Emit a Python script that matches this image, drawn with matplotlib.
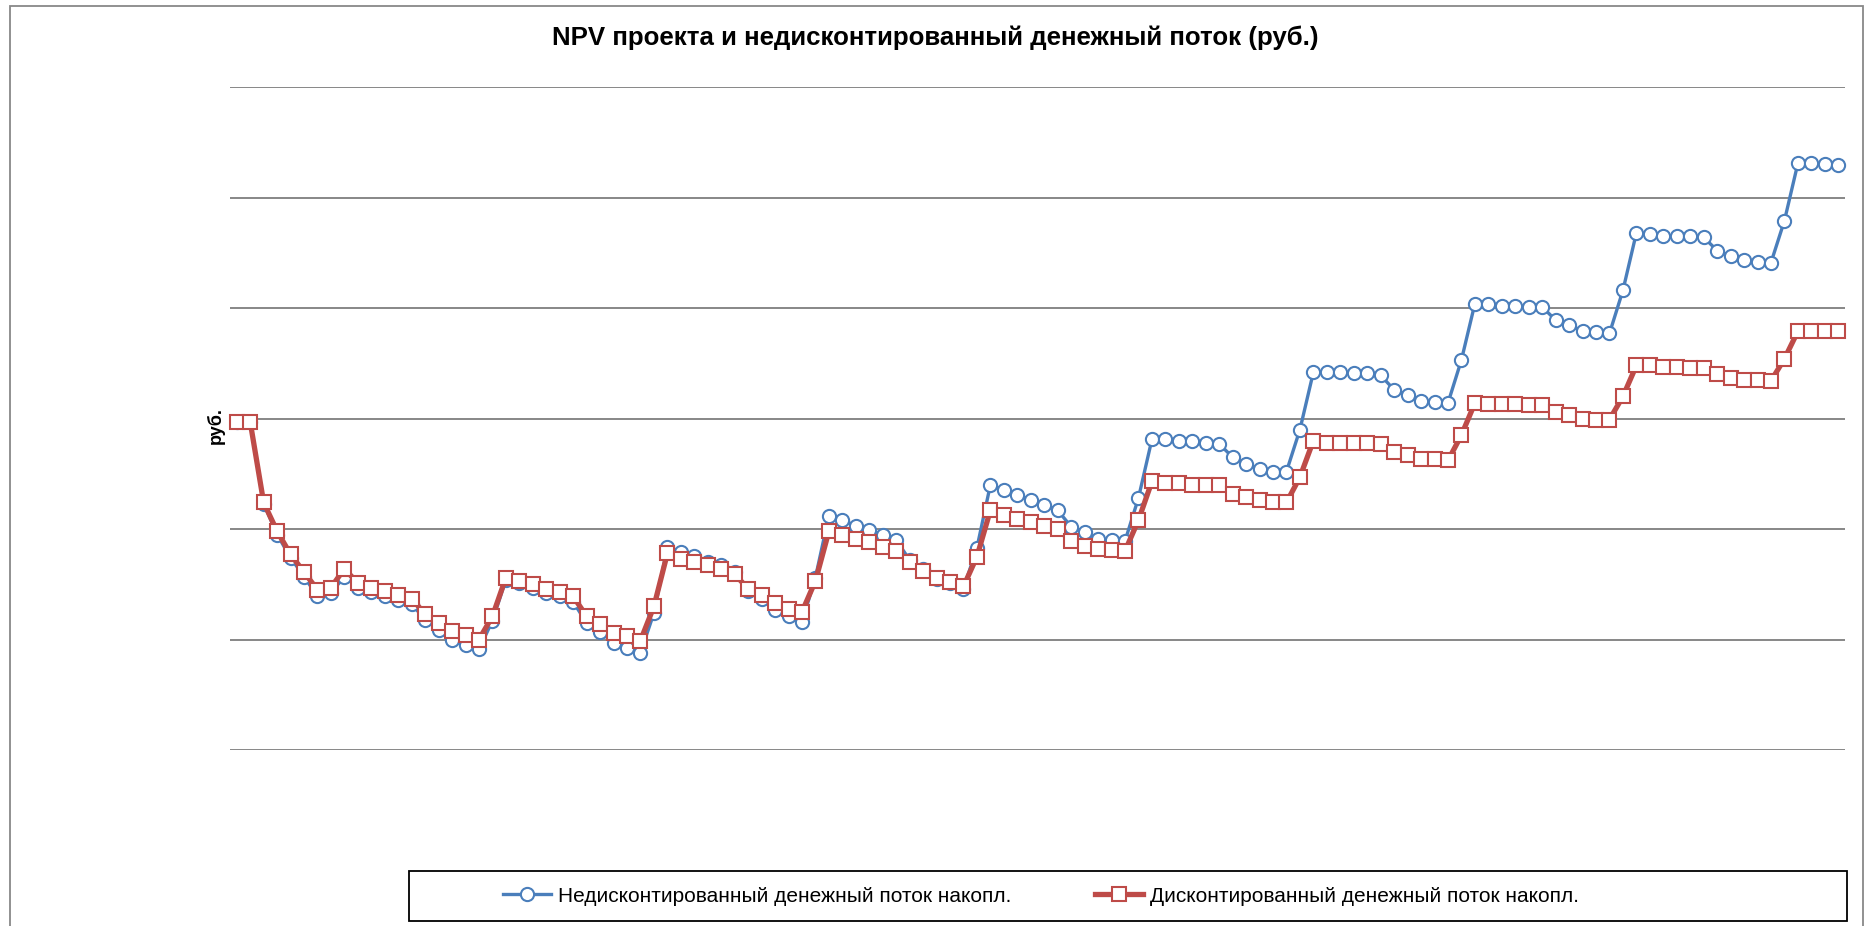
import matplotlib
matplotlib.use("Agg")
import matplotlib.pyplot as plt
from matplotlib.patches import Rectangle
from matplotlib.lines import Line2D

plt.rcParams['font.family'] = ['Liberation Sans', 'DejaVu Sans']

# monthly periods, values in grid units (axis labels are hidden on the original)
months = list(range(120))

undiscounted = [
    -0.03, -0.03, -0.77, -1.05, -1.26, -1.43, -1.61, -1.58, -1.43, -1.53,
    -1.57, -1.61, -1.64, -1.68, -1.82, -1.91, -2.00, -2.05, -2.09, -1.83,
    -1.46, -1.49, -1.53, -1.58, -1.61, -1.66, -1.85, -1.93, -2.03, -2.08,
    -2.12, -1.76, -1.16, -1.21, -1.24, -1.30, -1.33, -1.39, -1.56, -1.63,
    -1.73, -1.79, -1.84, -1.44, -0.88, -0.92, -0.97, -1.01, -1.05, -1.10,
    -1.28, -1.36, -1.45, -1.49, -1.54, -1.17, -0.60, -0.65, -0.69, -0.74,
    -0.78, -0.83, -0.98, -1.03, -1.09, -1.10, -1.11, -0.72, -0.19, -0.19,
    -0.20, -0.20, -0.22, -0.23, -0.35, -0.41, -0.46, -0.48, -0.48, -0.10,
    0.42, 0.42, 0.42, 0.41, 0.41, 0.39, 0.26, 0.21, 0.16, 0.15,
    0.14, 0.53, 1.04, 1.04, 1.02, 1.02, 1.01, 1.01, 0.89, 0.85,
    0.79, 0.78, 0.77, 1.16, 1.68, 1.67, 1.65, 1.65, 1.65, 1.64,
    1.52, 1.47, 1.43, 1.42, 1.41, 1.79, 2.31, 2.31, 2.30, 2.29,
]

discounted = [
    -0.03, -0.03, -0.76, -1.02, -1.23, -1.39, -1.55, -1.53, -1.36, -1.49,
    -1.53, -1.56, -1.60, -1.63, -1.77, -1.85, -1.92, -1.96, -2.00, -1.79,
    -1.44, -1.47, -1.50, -1.54, -1.57, -1.61, -1.79, -1.86, -1.94, -1.97,
    -2.01, -1.70, -1.22, -1.27, -1.30, -1.33, -1.36, -1.41, -1.54, -1.60,
    -1.67, -1.72, -1.75, -1.47, -1.02, -1.05, -1.09, -1.12, -1.16, -1.20,
    -1.30, -1.38, -1.44, -1.48, -1.52, -1.25, -0.83, -0.87, -0.91, -0.94,
    -0.97, -1.00, -1.11, -1.15, -1.18, -1.19, -1.20, -0.92, -0.57, -0.58,
    -0.58, -0.60, -0.60, -0.60, -0.68, -0.71, -0.74, -0.76, -0.76, -0.53,
    -0.20, -0.22, -0.22, -0.22, -0.22, -0.23, -0.30, -0.33, -0.37, -0.37,
    -0.38, -0.15, 0.14, 0.13, 0.13, 0.13, 0.12, 0.12, 0.06, 0.03,
    0.00, -0.01, -0.01, 0.20, 0.48, 0.48, 0.47, 0.47, 0.46, 0.46,
    0.40, 0.37, 0.35, 0.35, 0.34, 0.54, 0.79, 0.79, 0.79, 0.79,
]

title = "NPV проекта и недисконтированный денежный поток (руб.)"
label_undisc = "Недисконтированный денежный поток накопл."
label_disc = "Дисконтированный денежный поток накопл."

blue = '#4A7EBB'
red = '#BE4B48'

W, H = 1871, 926
fig = plt.figure(figsize=(W / 100, H / 100), dpi=100)

# outer chart border
fig.patches.append(Rectangle((9.6 / W, -0.05), (1863 - 9.6) / W, 1.05 - 5.7 / H,
                             transform=fig.transFigure, fill=False,
                             edgecolor='#888888', linewidth=1.3))

ax = fig.add_axes([230 / W, 1 - 750 / H, (1845 - 230) / W, (750 - 87) / H])
ax.set_xlim(-0.5, 119.5)
ax.set_ylim(-3, 3)
ax.set_yticks(range(-3, 4))
ax.set_xticks([])
ax.tick_params(left=False, labelleft=False)
for s in ax.spines.values():
    s.set_visible(False)
ax.grid(axis='y', color='#878787', linewidth=1.4)
ax.set_axisbelow(True)

ax.plot(months, undiscounted, color=blue, linewidth=2.4, marker='o', markersize=9.5,
        markerfacecolor='white', markeredgecolor=blue, markeredgewidth=1.5,
        clip_on=False, zorder=3)
ax.plot(months, discounted, color=red, linewidth=3.8, marker='s', markersize=9.5,
        markerfacecolor='white', markeredgecolor=red, markeredgewidth=1.5,
        clip_on=False, zorder=4)

fig.text(0.5, 1 - 38 / H, title, ha='center', va='center', fontsize=18.6, fontweight='bold')
fig.text(216 / W, 1 - 425 / H, "руб.", ha='center', va='center', rotation=90,
         fontsize=13, fontweight='bold')

# legend
fig.patches.append(Rectangle((409 / W, 1 - 921 / H), (1847 - 409) / W, 50 / H,
                             transform=fig.transFigure, fill=False,
                             edgecolor='black', linewidth=1.3))
handles = [
    Line2D([], [], color=blue, linewidth=2.4, marker='o', markersize=9.5,
           markerfacecolor='white', markeredgecolor=blue, markeredgewidth=1.5),
    Line2D([], [], color=red, linewidth=3.8, marker='s', markersize=9.5,
           markerfacecolor='white', markeredgecolor=red, markeredgewidth=1.5),
]
fig.legend(handles, [label_undisc, label_disc], loc='center',
           bbox_to_anchor=(1041 / W, 1 - 896 / H), ncol=2, frameon=False,
           fontsize=15, handlelength=2.3, handletextpad=0.34, columnspacing=4.0,
           borderpad=0, borderaxespad=0)

fig.savefig("out.png", dpi=100)
